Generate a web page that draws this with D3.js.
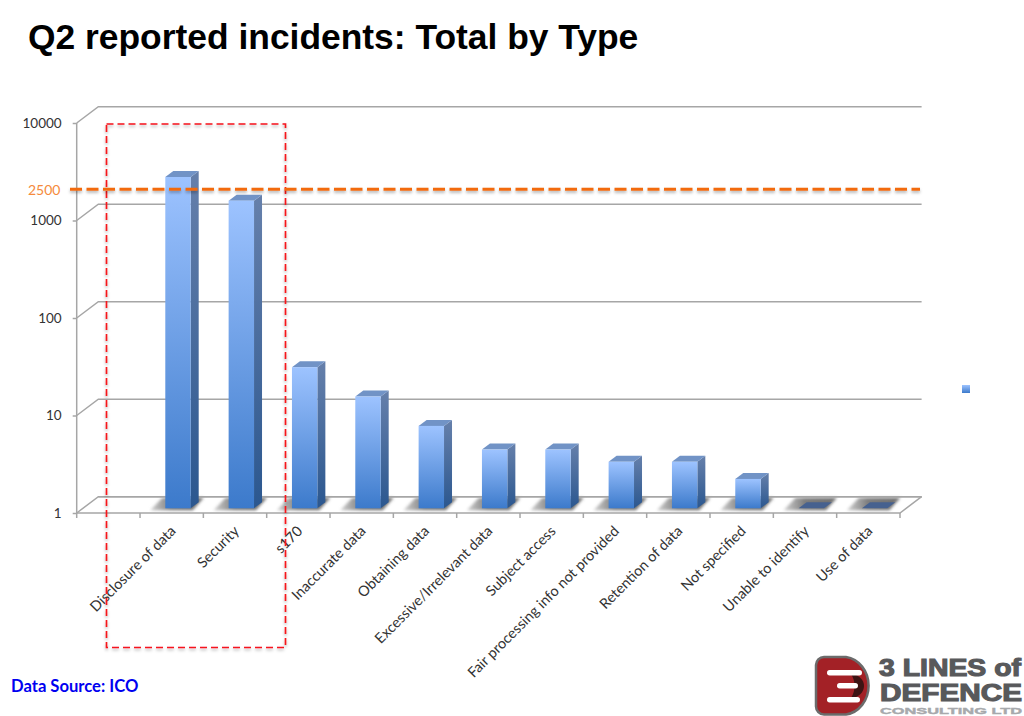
<!DOCTYPE html>
<html><head><meta charset="utf-8">
<script src="https://cdn.jsdelivr.net/npm/d3@7/dist/d3.min.js"></script>
<style>html,body{margin:0;padding:0;background:#fff}svg{display:block}</style>
</head><body><svg id="c" width="1024" height="716"></svg>
<script>
const categories = ["", "Disclosure of data", "Security", "s170", "Inaccurate data", "Obtaining data", "Excessive/Irrelevant data", "Subject access", "Fair processing info not provided", "Retention of data", "Not specified", "Unable to identify", "Use of data"];
const values = [null, 2500, 1430, 28, 14, 7, 4, 4, 3, 3, 2, 1, 1];
const yTicks = [1, 10, 100, 1000, 10000];
const threshold = 2500;
const titleText = "Q2 reported incidents: Total by Type";
const sourceText = "Data Source: ICO";
const logoLines = ["3 LINES of", "DEFENCE", "CONSULTING LTD"];

const svg = d3.select("#c");
const defs = svg.append("defs");
const grad = (id, a, b) => { const g = defs.append("linearGradient").attr("id", id).attr("x1",0).attr("y1",0).attr("x2",0).attr("y2",1);
  g.append("stop").attr("offset",0).attr("stop-color",a); g.append("stop").attr("offset",1).attr("stop-color",b); };
grad("front","#9DC3FF","#3C7ACB");
grad("side","#6680AB","#2B578F");
const sg = defs.append("linearGradient").attr("id","floorShadow").attr("x1",0).attr("y1",0).attr("x2",1).attr("y2",0);
sg.append("stop").attr("offset",0).attr("stop-color","#d0d0d0");
sg.append("stop").attr("offset",0.4).attr("stop-color","#7c7c7c");
sg.append("stop").attr("offset",1).attr("stop-color","#6e6e6e");
defs.append("filter").attr("id","blur").attr("x","-30%").attr("y","-60%").attr("width","160%").attr("height","220%")
  .append("feGaussianBlur").attr("stdDeviation",1.8);
const ds = defs.append("filter").attr("id","soft").attr("filterUnits","userSpaceOnUse")
  .attr("x",0).attr("y",0).attr("width",1024).attr("height",716);
ds.append("feDropShadow").attr("dx",0).attr("dy",2).attr("stdDeviation",1.5).attr("flood-color","#000").attr("flood-opacity",0.3);

const x = d3.scaleBand().domain(categories).range([76.7, 900]);
const y = d3.scaleLog().domain([1, 10000]).range([513, 123]);
const wall = {dx: 21.6, dy: -16.3};
const plane = {dx: 6.3, dy: -4.7};
const barW = 25.4, depth = {dx: 8, dy: -6};
const gridCol = "#A6A6A6";

// wall gridlines and left-side diagonals
const grid = svg.append("g").attr("fill","none").attr("stroke",gridCol).attr("stroke-width",1.5);
yTicks.forEach(t => {
  grid.append("path").attr("d", d3.line()([
    [x.range()[0], y(t)],
    [x.range()[0] + wall.dx, y(t) + wall.dy],
    [x.range()[1] + wall.dx, y(t) + wall.dy]
  ]));
});

// floor shadows
const data = categories.map((c,i)=>({c, v:values[i]})).filter(d=>d.v!==null);
const bx = d => x(d.c) + x.bandwidth()/2 + plane.dx - barW/2;
const base = y(1) + plane.dy;
svg.append("g").selectAll("path").data(data).join("path")
  .attr("d", d => d3.line()([
    [bx(d)-15, base+2],[bx(d)+barW+2, base+2],[bx(d)+barW+13, y(1)+wall.dy+1],[bx(d)-3, y(1)+wall.dy+1]
  ])+"Z")
  .attr("fill","url(#floorShadow)").attr("filter","url(#blur)");
// floor edges above shadows
svg.append("path").attr("fill","none").attr("stroke",gridCol).attr("stroke-width",1.5).attr("d", d3.line()([
  [x.range()[0], y(1)], [x.range()[1], y(1)], [x.range()[1] + wall.dx, y(1) + wall.dy]
]));
svg.append("line").attr("x1",x.range()[0]+wall.dx).attr("x2",x.range()[1]+wall.dx)
  .attr("y1",y(1)+wall.dy).attr("y2",y(1)+wall.dy).attr("stroke",gridCol).attr("stroke-width",1.5);

// axes
const axL = svg.append("g").attr("transform",`translate(${x.range()[0]},0)`)
  .call(d3.axisLeft(y).tickValues(yTicks).tickFormat(d3.format("d")).tickSize(4).tickPadding(11));
axL.selectAll("path,line").attr("stroke",gridCol).attr("stroke-width",1.5);
axL.selectAll("text").attr("font-family","Lato, 'Open Sans', sans-serif").attr("font-size",13.5).attr("fill","#333");
axL.select("path").attr("d",`M0,${y(10000)}V${y(1)}`);

const edges = categories.map(c=>x(c)).concat([x.range()[1]]);
svg.append("g").selectAll("line").data(edges).join("line")
  .attr("x1",d=>d).attr("x2",d=>d).attr("y1",y(1)).attr("y2",y(1)+5)
  .attr("stroke",gridCol).attr("stroke-width",1.5);

const axB = svg.append("g").attr("transform",`translate(0,${y(1)})`)
  .call(d3.axisBottom(x).tickSize(0).tickFormat(d=>d));
axB.select("path").remove();
axB.selectAll("text").attr("text-anchor","end").attr("dy",0).attr("y",0)
  .attr("transform","translate(5,19) rotate(-45)")
  .attr("font-family","Lato, 'Open Sans', sans-serif").attr("font-size",14.5).attr("fill","#333");

// bars
const bars = svg.append("g").selectAll("g").data(data).join("g");
bars.append("path").attr("d", d => { const l=bx(d)+barW, t=y(d.v)+plane.dy;
    return d3.line()([[l,t],[l+depth.dx,t+depth.dy],[l+depth.dx,base+depth.dy],[l,base]])+"Z"; })
  .attr("fill","url(#side)").attr("display", d=>d.v===1?"none":null);
bars.append("path").attr("d", d => { const l=bx(d), t=y(d.v)+plane.dy;
    return d3.line()([[l,t],[l+barW,t],[l+barW+depth.dx,t+depth.dy],[l+depth.dx,t+depth.dy]])+"Z"; })
  .attr("fill", d=>d.v===1?"#46618F":"#7193C6");
bars.filter(d=>d.v>1).append("rect").attr("x",bx).attr("width",barW)
  .attr("y",d=>y(d.v)+plane.dy).attr("height",d=>base-(y(d.v)+plane.dy)).attr("fill","url(#front)");

// highlight box
svg.append("rect").attr("x",106.5).attr("y",124).attr("width",179).attr("height",523.5)
  .attr("fill","none").attr("stroke","#F5141E").attr("stroke-width",1.7).attr("stroke-dasharray","7,4").attr("filter","url(#soft)");
// threshold
const thY = 189.3;
svg.append("line").attr("x1",70).attr("x2",920).attr("y1",thY).attr("y2",thY)
  .attr("stroke","#F26A10").attr("stroke-width",3).attr("stroke-dasharray","12,4.5").attr("filter","url(#soft)");
svg.append("text").attr("x",28).attr("y",thY+5.5).text(threshold)
  .attr("font-family","Lato, 'Open Sans', sans-serif").attr("font-size",14).attr("fill","#F58A3C");

// legend swatch
svg.append("rect").attr("x",962).attr("y",385).attr("width",8).attr("height",8).attr("fill","url(#front)");

// title + source
svg.append("text").attr("x",28).attr("y",49).text(titleText)
  .attr("font-family","'Liberation Sans', Arial, sans-serif").attr("font-weight","bold").attr("font-size",35.4).attr("fill","#000");
svg.append("text").attr("x",11).attr("y",692).text(sourceText)
  .attr("font-family","Lato, 'Open Sans', sans-serif").attr("font-weight","bold").attr("font-size",16.6).attr("fill","#0000F0");

// logo
const logo = svg.append("g");
const dShape = "M824,657 H846 A26,29 0 0 1 846,714.5 H824 A8,8 0 0 1 816,706.5 V665 A8,8 0 0 1 824,657 Z";
logo.append("path").attr("d",dShape).attr("fill","#A32126").attr("stroke","#6b6b6b").attr("stroke-width",2.5);
logo.append("path").attr("d","M851,674 A14,12 0 0 1 864,686 A14,12 0 0 1 851,698 A22,22 0 0 0 851,674Z").attr("fill","#3d1414");
[[827,670,35,5.5],[837,683,21,5.5],[827,697,33,5.5]].forEach(r=>{
  logo.append("rect").attr("x",r[0]).attr("y",r[1]).attr("width",r[2]).attr("height",r[3]).attr("rx",2.7).attr("fill","#fff");
});
const logoFont = "'Liberation Sans', sans-serif";
const lt = (s,xx,yy,fs,len,col,sw)=>logo.append("text").attr("x",xx).attr("y",yy).text(s)
  .attr("font-family",logoFont).attr("font-weight","bold").attr("font-size",fs).attr("fill",col)
  .attr("textLength",len).attr("lengthAdjust","spacingAndGlyphs").attr("stroke",col).attr("stroke-width",sw);
lt(logoLines[0],879,676,23,142,"#58595B",1.1);
lt(logoLines[1],880,701,23,142,"#58595B",1.1);
lt(logoLines[2],880,713.5,9.5,142,"#A7A9AC",0.4);
</script></body></html>
